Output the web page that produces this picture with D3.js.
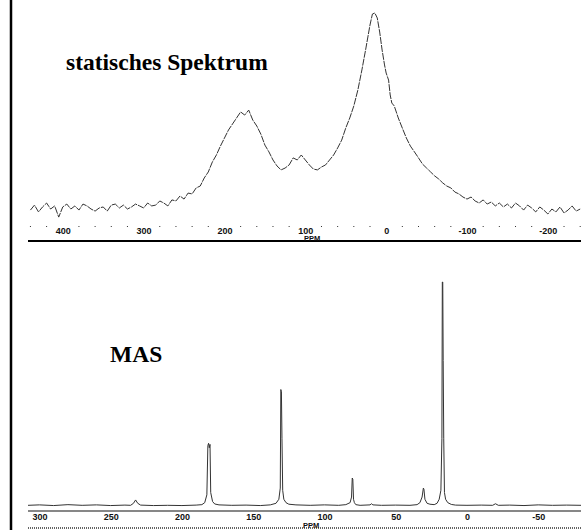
<!DOCTYPE html>
<html>
<head>
<meta charset="utf-8">
<script src="https://cdn.jsdelivr.net/npm/d3@7"></script>
<style>
  html, body { margin: 0; padding: 0; background: #fff; }
  svg { display: block; }
</style>
</head>
<body>
<svg id="chart" width="581" height="530"></svg>
<script>
// ---------- DATA ----------
// Static spectrum (ppm, relative intensity)
const staticPpm = [440,435,430,425,420,415,410,405,400,395,390,385,380,375,370,365,360,355,350,345,340,335,330,325,320,315,310,305,300,295,290,285,280,275,270,265,260,255,250,245,240,235,230,225,220,215,210,205,200,195,190,185,180,175,170,165,160,155,150,145,140,135,130,125,120,115,110,105,100,95,90,85,80,75,70,65,60,55,50,45,40,35,30,25,20,17,14,11,8,5,2,0,-3,-5,-7,-10,-15,-20,-25,-30,-35,-40,-45,-50,-55,-60,-65,-70,-75,-80,-85,-90,-95,-100,-105,-110,-115,-120,-125,-130,-135,-140,-145,-150,-155,-160,-165,-170,-175,-180,-185,-190,-195,-200,-205,-210,-215,-220,-225,-230,-235,-240];
const staticInt = [4.8,7.2,3.9,6.3,8.2,5.3,6.8,1.4,6.3,7.7,5.3,6.8,4.8,7.7,6.8,5.3,4.3,5.8,6.3,4.3,7.2,7.7,5.8,7.2,5.3,6.3,7.7,6.8,5.8,8.2,6.8,7.2,9.2,8.2,6.8,9.7,9.2,11.6,10.1,13,12.6,15.5,16.4,20.3,23.2,28,31.4,35.7,39.6,43.5,46.4,49.3,52.2,50.7,53.1,48.3,45.4,41.5,36.2,32.9,29,26.1,24.2,25.1,26.6,30,29,31.4,29,26.6,24.6,24.2,25.6,26.6,29,31.4,34.8,38.6,44.4,49.3,55.1,62.8,72.5,83.1,94.2,99.5,100,97.6,90.8,82.1,74.9,71,67.6,60.4,56.5,55.1,49.3,44.4,39.6,35.7,32.9,30,27,25.1,23.2,21.3,19.8,17.9,16.4,15.5,13.5,12.6,11.1,10.1,11.1,9.2,8.2,9.7,7.7,8.7,6.8,8.2,6.3,7.7,5.8,8.2,6.8,4.8,7.2,5.8,3.9,6.3,4.8,2.9,5.3,3.9,6.3,3.4,4.8,6.8,4.3,5.3];

// MAS spectrum (ppm, relative intensity)
const masPpm = [308,300,290,280,270,260,250,240,236,234,232.5,231,229,220,210,200,190,186,184,182.5,181.8,181.3,180.8,180.3,179.8,178.5,177,174,165,155,145,138,134,132,131,130.6,130.2,129.8,129.3,128.5,127,125,120,110,100,90,85,82,81,80.5,80.1,79.6,79,78,75,68,67,66,60,50,40,35,33,31.5,30.6,30.2,29.5,28,26,23,21,19.5,18.3,17.6,17.3,17.0,16.7,16.3,15.8,15,13.5,11,8,0,-10,-18,-20,-22,-30,-40,-50,-60,-70,-80];
const masInt = [0.3,0.5,0.2,0.6,0.3,0.5,0.2,0.4,0.3,1.2,2.7,1.2,0.4,0.2,0.3,0.2,0.4,0.6,1.5,5,27,28,26,27.5,6,2,0.9,0.5,0.3,0.4,0.2,0.5,1.2,3,8,52,51,30,7,3,1.5,0.8,0.5,0.3,0.5,0.3,0.6,1.5,4,12.5,12,3,1.5,0.6,0.3,0.5,1,0.5,0.3,0.4,0.3,0.6,1.5,4,8,7.5,3,1.2,0.8,0.6,1.2,3,7,30,100,100,65,30,6,3,1.5,0.7,0.4,0.3,0.4,0.3,1,0.3,0.4,0.2,0.5,0.3,0.4,0.3];

// Axis tick labels
const staticTicks = [400,300,200,100,0,-100,-200];
const masTicks = [300,250,200,150,100,50,0,-50];

// Titles
const staticTitle = "statisches Spektrum";
const masTitle = "MAS";
const axisUnit = "PPM";

// ---------- DRAW ----------
const svg = d3.select("#chart");
const labelFont = "'Liberation Sans Narrow','Arial Narrow','Liberation Sans',sans-serif";
const titleFont = "'Liberation Serif','Times New Roman','DejaVu Serif',serif";

// left frame line
svg.append("line").attr("x1", 11).attr("x2", 11).attr("y1", 0).attr("y2", 530)
  .attr("stroke", "#000").attr("stroke-width", 2.5);

// ---- top (static) panel ----
const xTop = d3.scaleLinear().domain([443, -241]).range([28, 581]);
const yTop = d3.scaleLinear().domain([0, 100]).range([220, 13]);

const lineTop = d3.line().x(d => xTop(d[0])).y(d => yTop(d[1]));
svg.append("path")
  .datum(staticPpm.map((p, i) => [p, staticInt[i]]))
  .attr("d", lineTop)
  .attr("fill", "none").attr("stroke", "#333").attr("stroke-width", 1)
  .attr("stroke-dasharray", "7,1");

// minor dots every 20 ppm
const topMinor = d3.range(440, -241, -20).filter(v => v % 100 !== 0);
svg.append("g").selectAll("rect").data(topMinor).join("rect")
  .attr("x", d => xTop(d) - 0.5).attr("y", 226).attr("width", 1).attr("height", 1)
  .attr("fill", "#333");

// labels
const topAxis = d3.axisBottom(xTop).tickValues(staticTicks).tickSize(0).tickPadding(0)
  .tickFormat(d => String(d));
const gTop = svg.append("g").attr("transform", "translate(0,228)").call(topAxis);
gTop.select(".domain").remove();
gTop.selectAll("text").attr("font-family", labelFont).attr("font-size", 9)
  .attr("font-weight", "bold").attr("fill", "#111").attr("dy", "0.71em");

svg.append("line").attr("x1", 28).attr("x2", 581).attr("y1", 241).attr("y2", 241)
  .attr("stroke", "#000").attr("stroke-width", 2);
svg.append("text").attr("x", 304).attr("y", 240.5).text(axisUnit)
  .attr("font-family", labelFont).attr("font-size", 7.5).attr("font-weight", "bold")
  .attr("fill", "#111");

svg.append("text").attr("x", 66).attr("y", 70).text(staticTitle)
  .attr("font-family", titleFont).attr("font-size", 23.5).attr("font-weight", "bold")
  .attr("fill", "#000");

// ---- bottom (MAS) panel ----
const xBot = d3.scaleLinear().domain([308, -80]).range([28, 581]);
const yBot = d3.scaleLinear().domain([0, 100]).range([506, 282]);

const lineBot = d3.line().x(d => xBot(d[0])).y(d => yBot(d[1]));
svg.append("path")
  .datum(masPpm.map((p, i) => [p, masInt[i]]))
  .attr("d", lineBot)
  .attr("fill", "none").attr("stroke", "#333").attr("stroke-width", 1);

svg.append("line").attr("x1", 28).attr("x2", 581).attr("y1", 511).attr("y2", 511)
  .attr("stroke", "#111").attr("stroke-width", 1.2);

const botAxis = d3.axisBottom(xBot).tickValues(masTicks).tickSize(0).tickPadding(0)
  .tickFormat(d => String(d));
const gBot = svg.append("g").attr("transform", "translate(0,514)").call(botAxis);
gBot.select(".domain").remove();
gBot.selectAll("text").attr("font-family", labelFont).attr("font-size", 9)
  .attr("font-weight", "bold").attr("fill", "#111").attr("dy", "0.71em");

svg.append("line").attr("x1", 28).attr("x2", 581).attr("y1", 528).attr("y2", 528)
  .attr("stroke", "#333").attr("stroke-width", 1.5).attr("stroke-dasharray", "1,1");
svg.append("text").attr("x", 303).attr("y", 528).text(axisUnit)
  .attr("font-family", labelFont).attr("font-size", 7.5).attr("font-weight", "bold")
  .attr("fill", "#111");

svg.append("text").attr("x", 110).attr("y", 362).text(masTitle)
  .attr("font-family", titleFont).attr("font-size", 23.5).attr("font-weight", "bold")
  .attr("fill", "#000");
</script>
</body>
</html>
